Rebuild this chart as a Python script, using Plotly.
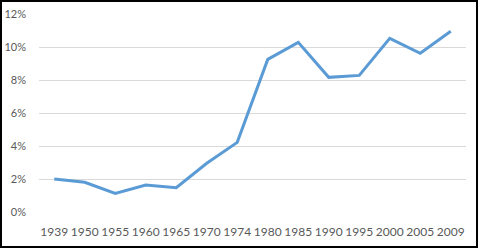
import plotly.graph_objects as go

years = ["1939", "1950", "1955", "1960", "1965", "1970", "1974", "1980",
         "1985", "1990", "1995", "2000", "2005", "2009"]
values = [2.0, 1.8, 1.13, 1.64, 1.47, 2.95, 4.22, 9.25, 10.28, 8.16, 8.28, 10.52, 9.62, 10.95]
y_ticks = [0, 2, 4, 6, 8, 10, 12]
y_labels = ["0%", "2%", "4%", "6%", "8%", "10%", "12%"]

W, H = 480, 250
L, R, T, B = 39, 14, 14, 38
pw, ph = W - L - R, H - T - B

def px_x(x):
    return (x - L) / pw

def px_y(y):
    return (H - B - y) / ph

fig = go.Figure()
fig.add_trace(go.Scatter(
    x=years, y=values, mode="lines",
    line=dict(color="#5B9BD5", width=3),
    hoverinfo="skip",
))

fig.update_layout(
    width=W, height=H,
    margin=dict(l=L, r=R, t=T, b=B),
    paper_bgcolor="white", plot_bgcolor="white",
    showlegend=False,
    font=dict(family="Lato, Open Sans, sans-serif", size=12, color="#595959"),
    xaxis=dict(
        type="category", range=[-0.5, len(years) - 0.5],
        showgrid=False, zeroline=False, showline=False,
        ticks="", tickfont=dict(size=12), tickangle=0, automargin=False,
        ticklabelstandoff=11,
    ),
    yaxis=dict(
        range=[0, 12], tickvals=y_ticks, ticktext=y_labels,
        showgrid=True, gridcolor="#D9D9D9", gridwidth=1,
        zeroline=False, showline=False, ticks="", automargin=False,
        tickfont=dict(size=11), ticklabelstandoff=12,
    ),
    shapes=[dict(
        type="rect", xref="paper", yref="paper",
        x0=px_x(1), x1=px_x(477), y0=px_y(247), y1=px_y(1),
        line=dict(color="black", width=2), layer="above",
    )],
)

fig.write_html("out.html", config={"displayModeBar": False, "staticPlot": True},
               post_script="document.body.style.margin='0px';")
